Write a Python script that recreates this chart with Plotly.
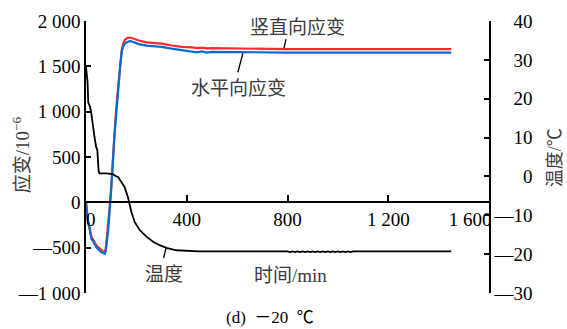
import plotly.graph_objects as go

# ---------------- data ----------------
t_strain = [0, 3, 8, 14, 21, 30, 40, 50, 60, 68, 74, 78, 82, 88, 94, 100, 106, 112, 118, 124,
            130, 136, 142, 148, 155, 165, 175, 190, 210, 240, 270, 300, 340, 380, 420, 440,
            460, 480, 500, 600, 700, 800, 900, 1000, 1040, 1060, 1080, 1100, 1200, 1300, 1450]
strain_vertical = [0, -110, -200, -270, -380, -420, -470, -500, -525, -540, -545, -520, -420, -250,
                   -60, 150, 440, 750, 960, 1160, 1360, 1545, 1680, 1750, 1795, 1815, 1818, 1805,
                   1785, 1765, 1757, 1750, 1730, 1714, 1708, 1700, 1706, 1698, 1700, 1694, 1692,
                   1690, 1690, 1690, 1684, 1690, 1686, 1690, 1690, 1690, 1690]
strain_horizontal = [0, -120, -220, -290, -400, -440, -490, -520, -550, -560, -567, -545, -470, -310,
                     -90, 130, 400, 700, 930, 1135, 1330, 1520, 1665, 1720, 1755, 1770, 1780, 1765,
                     1745, 1728, 1720, 1715, 1695, 1678, 1668, 1655, 1664, 1652, 1660, 1655, 1653,
                     1652, 1652, 1652, 1644, 1652, 1645, 1652, 1652, 1652, 1652]

t_temp = [0, 3, 6, 9, 14, 20, 27, 33, 40, 45, 50, 53, 80, 106, 118, 128, 140, 153, 166, 180, 193,
          213, 240, 266, 292, 319, 359, 400, 450, 800, 810, 820, 830, 840, 850, 860, 870, 880,
          890, 900, 910, 920, 930, 940, 950, 960, 970, 980, 990, 1000, 1010, 1020, 1030, 1040,
          1050, 1060, 1100, 1450]
temperature = [28.2, 26.0, 24.5, 19.0, 18.3, 16.8, 13.0, 10.5, 7.6, 6.8, 1.5, 0.8, 0.8, 0.6, 0.1,
               -0.2, -1.4, -2.7, -5.2, -9.1, -11.7, -13.8, -15.5, -16.8, -17.7, -18.4, -19.0,
               -19.1, -19.3, -19.3, -19.45, -19.3, -19.45, -19.3, -19.45, -19.3, -19.45, -19.3,
               -19.45, -19.3, -19.45, -19.3, -19.45, -19.3, -19.45, -19.3, -19.45, -19.3, -19.45,
               -19.3, -19.45, -19.3, -19.45, -19.3, -19.45, -19.3, -19.3, -19.3]

x_tickvals = [0, 400, 800, 1200, 1600]
x_ticktext = ["\u00a0\u00a00", "400", "800", "1 200", "1 600" + "\u00a0" * 8]
y_tickvals = [-1000, -500, 0, 500, 1000, 1500, 2000]
y_ticktext = ["—1 000", "—500", "0", "500", "1 000", "1 500", "2 000"]
y2_tickvals = [-30, -20, -10, 0, 10, 20, 30, 40]
y2_ticktext = ["—30", "—20", "—10", "\u00a0" * 6 + "0", "\u00a0" * 4 + "10",
               "\u00a0" * 4 + "20", "\u00a0" * 4 + "30", "\u00a0" * 4 + "40"]

SERIF = "Liberation Serif, Noto Sans CJK SC, serif"
CJK = "Noto Sans CJK SC, Liberation Serif, sans-serif"
TXT = "#3a3a3a"

fig = go.Figure()
fig.add_trace(go.Scatter(x=t_strain, y=strain_vertical, mode="lines",
                         line=dict(color="#ff2a2a", width=2.2), name="竖直向应变"))
fig.add_trace(go.Scatter(x=t_strain, y=strain_horizontal, mode="lines",
                         line=dict(color="#0a6ad0", width=2.2), name="水平向应变"))
fig.add_trace(go.Scatter(x=t_temp, y=temperature, mode="lines", yaxis="y2",
                         line=dict(color="black", width=1.8), name="温度"))

axis_common = dict(showgrid=False, zeroline=False, showline=True, linecolor="black",
                   linewidth=1.5, ticks="inside", tickcolor="black", tickwidth=1.5,
                   tickfont=dict(family=SERIF, size=19, color="black"))


def ann(text, x, y, xref, yref, family, size, color=TXT, angle=0):
    return dict(text=text, x=x, y=y, xref=xref, yref=yref, showarrow=False,
                xanchor="center", yanchor="middle", textangle=angle,
                font=dict(family=family, size=size, color=color))


fig.update_layout(
    width=567, height=329,
    margin=dict(l=86, r=78, t=21, b=36),
    paper_bgcolor="white", plot_bgcolor="white",
    showlegend=False,
    xaxis=dict(range=[0, 1600], anchor="free", position=1/3, ticklen=7,
               tickmode="array", tickvals=x_tickvals, ticktext=x_ticktext, **axis_common),
    yaxis=dict(range=[-1000, 2000], ticklen=5, tickmode="array",
               tickvals=y_tickvals, ticktext=y_ticktext, **axis_common),
    yaxis2=dict(range=[-30, 40], overlaying="y", side="right", anchor="x", ticklen=5,
                tickmode="array", tickvals=y2_tickvals, ticktext=y2_ticktext, **axis_common),
    annotations=[
        ann("竖直向应变", 838, 1954, "x", "y", CJK, 19),
        ann("水平向应变", 607, 1281, "x", "y", CJK, 19),
        ann("温度", 308, -773, "x", "y", CJK, 19),
        ann("时间/min", 810, -806, "x", "y", SERIF, 19),
        ann("(d)  <span style='font-family:Noto Sans CJK SC'>－</span>20  ℃",
            0.457, -0.083, "paper", "paper", SERIF, 17, color="black"),
        ann("应变/10<sup>−6</sup>", -0.161, 0.507, "paper", "paper", SERIF, 19, angle=-90),
        ann("温度/℃", 1.164, 0.496, "paper", "paper", SERIF, 18, angle=-90),
    ],
    shapes=[
        dict(type="line", xref="x", yref="y", x0=794, y0=1800, x1=786, y1=1700,
             line=dict(color="black", width=1.3)),
        dict(type="line", xref="x", yref="y", x0=623, y0=1645, x1=603, y1=1435,
             line=dict(color="black", width=1.3)),
        dict(type="line", xref="x", yref="y2", x0=319, y0=-18.1, x1=308, y1=-21,
             line=dict(color="black", width=1.3)),
    ],
)

fig.write_html("out.html")
